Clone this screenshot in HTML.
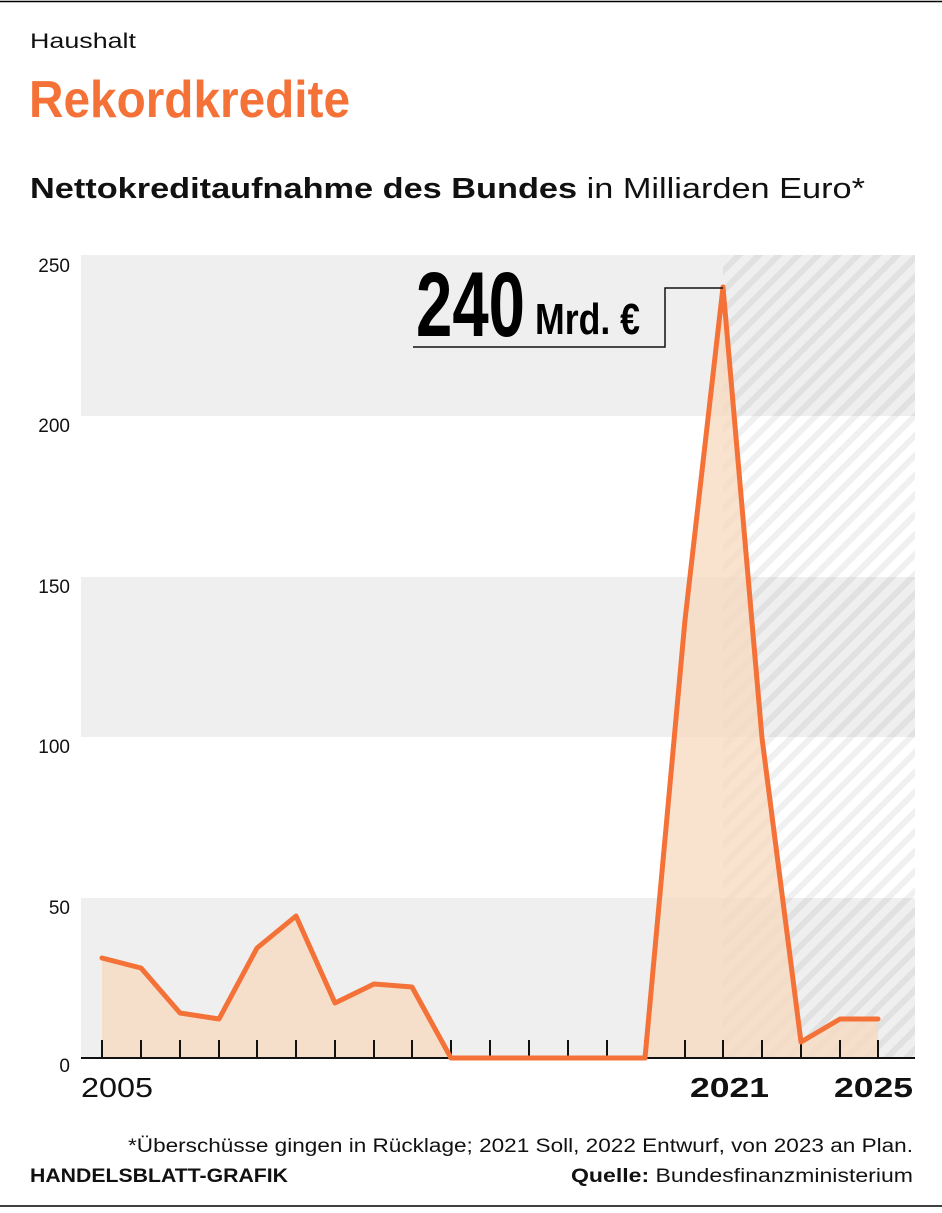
<!DOCTYPE html>
<html><head><meta charset="utf-8"><style>
body{margin:0;background:#fff;width:942px;height:1208px;overflow:hidden;font-family:"Liberation Sans",sans-serif;}
</style></head><body>
<svg width="942" height="1208" xmlns="http://www.w3.org/2000/svg" font-family="Liberation Sans, sans-serif">
<defs>
<pattern id="h" patternUnits="userSpaceOnUse" width="14" height="14" patternTransform="rotate(45)">
<rect width="14" height="14" fill="none"/><rect x="0" y="0" width="6" height="14" fill="#000" fill-opacity="0.06"/>
</pattern>
</defs>
<line x1="0" y1="1.5" x2="942" y2="1.5" stroke="#000" stroke-width="1.5"/>
<line x1="0" y1="1206" x2="942" y2="1206" stroke="#000" stroke-width="1.5"/>
<text x="30" y="48" font-size="21" fill="#111" textLength="106" lengthAdjust="spacingAndGlyphs">Haushalt</text>
<text x="29" y="117" font-size="52" font-weight="bold" fill="#f47238" textLength="321" lengthAdjust="spacingAndGlyphs">Rekordkredite</text>
<text x="30" y="198" font-size="29" fill="#111" textLength="835" lengthAdjust="spacingAndGlyphs"><tspan font-weight="bold">Nettokreditaufnahme des Bundes</tspan> in Milliarden Euro*</text>
<rect x="81" y="255" width="834" height="161" fill="#efefef"/>
<rect x="81" y="577" width="834" height="160" fill="#efefef"/>
<rect x="81" y="898" width="834" height="160" fill="#efefef"/>
<rect x="723" y="255" width="192" height="803" fill="url(#h)"/>
<g font-size="19" fill="#111" text-anchor="end">
<text x="70" y="272">250</text><text x="70" y="432">200</text><text x="70" y="593">150</text><text x="70" y="753">100</text><text x="70" y="914">50</text><text x="70" y="1072">0</text>
</g>
<polygon fill="#f7d9bf" fill-opacity="0.75" points="102,958 141,968 180,1013 219,1019 257,948 296,916 335,1003 374,984 412,987 451,1058 490,1058 529,1058 568,1058 607,1058 645,1058 685,620 723,287 762,738 801,1042 840,1019 878,1019 878,1058 102,1058"/>
<g stroke="#111" stroke-width="2">
<line x1="102" y1="1040" x2="102" y2="1058"/><line x1="141" y1="1040" x2="141" y2="1058"/><line x1="180" y1="1040" x2="180" y2="1058"/><line x1="219" y1="1040" x2="219" y2="1058"/><line x1="257" y1="1040" x2="257" y2="1058"/><line x1="296" y1="1040" x2="296" y2="1058"/><line x1="335" y1="1040" x2="335" y2="1058"/><line x1="374" y1="1040" x2="374" y2="1058"/><line x1="412" y1="1040" x2="412" y2="1058"/><line x1="451" y1="1040" x2="451" y2="1058"/><line x1="490" y1="1040" x2="490" y2="1058"/><line x1="529" y1="1040" x2="529" y2="1058"/><line x1="568" y1="1040" x2="568" y2="1058"/><line x1="607" y1="1040" x2="607" y2="1058"/><line x1="645" y1="1040" x2="645" y2="1058"/><line x1="685" y1="1040" x2="685" y2="1058"/><line x1="723" y1="1040" x2="723" y2="1058"/><line x1="762" y1="1040" x2="762" y2="1058"/><line x1="801" y1="1040" x2="801" y2="1058"/><line x1="840" y1="1040" x2="840" y2="1058"/><line x1="878" y1="1040" x2="878" y2="1058"/>
</g>
<line x1="81" y1="1058" x2="915" y2="1058" stroke="#111" stroke-width="2"/>
<polyline fill="none" stroke="#f47238" stroke-width="5" stroke-linejoin="round" stroke-linecap="round" points="102,958 141,968 180,1013 219,1019 257,948 296,916 335,1003 374,984 412,987 451,1058 490,1058 529,1058 568,1058 607,1058 645,1058 685,620 723,287 762,738 801,1042 840,1019 878,1019"/>
<polyline fill="none" stroke="#111" stroke-width="1.5" points="413,347 665,347 665,288 723,288"/>
<text x="416" y="336" font-size="92" font-weight="bold" fill="#000" textLength="109" lengthAdjust="spacingAndGlyphs">240</text>
<text x="535" y="334" font-size="44" font-weight="bold" fill="#000" textLength="105" lengthAdjust="spacingAndGlyphs">Mrd. €</text>
<text x="81" y="1097" font-size="28" fill="#111" textLength="72" lengthAdjust="spacingAndGlyphs">2005</text>
<text x="690" y="1097" font-size="28" font-weight="bold" fill="#111" textLength="79" lengthAdjust="spacingAndGlyphs">2021</text>
<text x="834" y="1097" font-size="28" font-weight="bold" fill="#111" textLength="79" lengthAdjust="spacingAndGlyphs">2025</text>
<text x="128" y="1152" font-size="19" fill="#111" textLength="785" lengthAdjust="spacingAndGlyphs">*Überschüsse gingen in Rücklage; 2021 Soll, 2022 Entwurf, von 2023 an Plan.</text>
<text x="30" y="1182" font-size="19" font-weight="bold" fill="#111" textLength="258" lengthAdjust="spacingAndGlyphs">HANDELSBLATT-GRAFIK</text>
<text x="571" y="1182" font-size="19" fill="#111" textLength="342" lengthAdjust="spacingAndGlyphs"><tspan font-weight="bold">Quelle:</tspan> Bundesfinanzministerium</text>
</svg>
</body></html>
